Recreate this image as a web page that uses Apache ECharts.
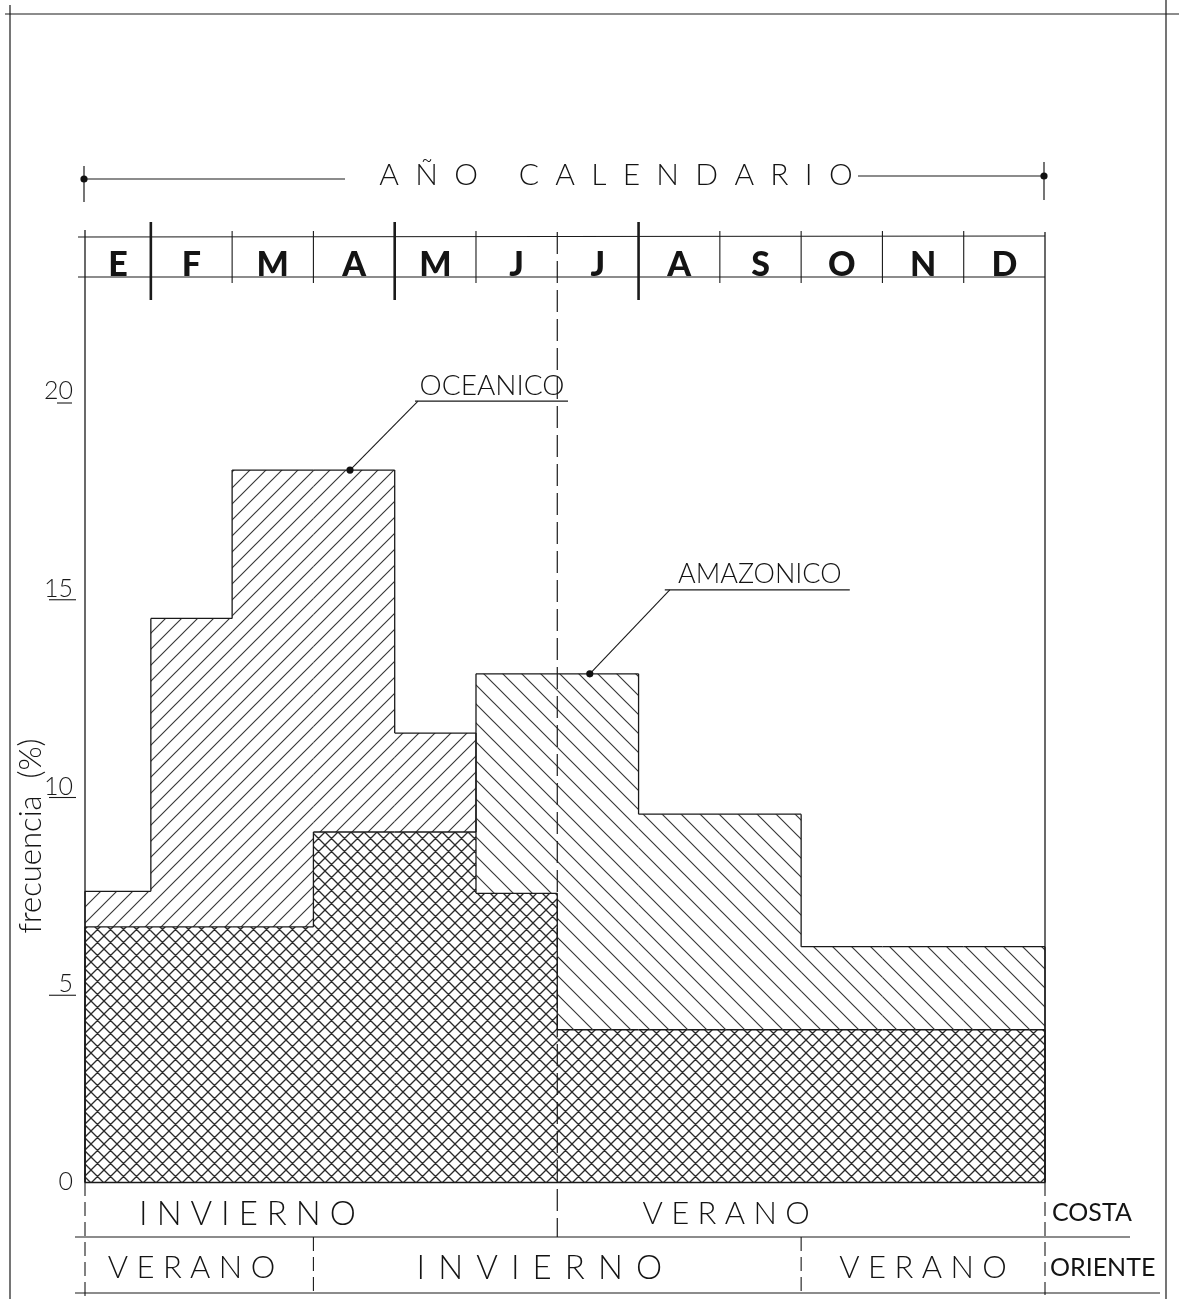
<!DOCTYPE html>
<html><head><meta charset="utf-8">
<script src="https://cdn.jsdelivr.net/npm/echarts@6/dist/echarts.min.js"></script>
<style>html,body{margin:0;padding:0;background:#fff}#c{width:1179px;height:1299px}</style>
</head><body><div id="c"></div>
<script>
// ---------------- data ----------------
const months = ['E','F','M','A','M','J','J','A','S','O','N','D'];
const oceanico  = [7.35, 14.25, 18.0, 18.0, 11.35, 7.3, 3.85, 3.85, 3.85, 3.85, 3.85, 3.85];
const amazonico = [6.45, 6.45, 6.45, 8.85, 8.85, 12.85, 12.85, 9.3, 9.3, 5.95, 5.95, 5.95];
const yTicks = [0, 5, 10, 15, 20];
const costaSeasons   = [{name:'INVIERNO', from:0, to:6}, {name:'VERANO', from:6, to:12}];
const orienteSeasons = [{name:'VERANO', from:0, to:3}, {name:'INVIERNO', from:3, to:9}, {name:'VERANO', from:9, to:12}];
const thickMonthBreaks = [1, 4, 7];
const coastBreak = 6;

// ---------------- layout ----------------
const X_MIN = 0.19;
const LINE = '#1a1a1a';
const HATCH = '#383838';
const THIN = "300 ";
const FONT = "Lato, 'DejaVu Sans', sans-serif";
const spaced = (s, gap) => s.split('').join(gap);

function hatch(size, dirs, color, width) {
  const c = document.createElement('canvas');
  c.width = size; c.height = size;
  const g = c.getContext('2d');
  g.strokeStyle = color; g.lineWidth = width; g.lineCap = 'square';
  g.beginPath();
  for (const d of dirs) {
    for (const o of [-size, 0, size]) {
      if (d === '/') { g.moveTo(o - 1, size + 1); g.lineTo(o + size + 1, -1); }
      else { g.moveTo(o - 1, -1); g.lineTo(o + size + 1, size + 1); }
    }
  }
  g.stroke();
  return c;
}
const patO = {image: hatch(16, ['/'], HATCH, 1.15), repeat: 'repeat'};
const patA = {image: hatch(19, ['\\'], HATCH, 1.15), repeat: 'repeat'};
const patX = {image: hatch(13, ['/','\\'], '#2a2a2a', 1.35), repeat: 'repeat'};

function rectShape(api, x0, x1, v0, v1) {
  const p0 = api.coord([x0, v1]); const p1 = api.coord([x1, v0]);
  return {x: p0[0], y: p0[1], width: p1[0] - p0[0], height: p1[1] - p0[1]};
}
function seg(api, a, b) {
  const p = api.coord(a), q = api.coord(b);
  return {type:'line', shape:{x1:p[0], y1:p[1], x2:q[0], y2:q[1]}, style:{stroke: LINE, lineWidth: 1.3}, silent:true};
}
function seriesRows(own, other) {
  return own.map((v, i) => [i, v, other[i], i > 0 ? own[i-1] : 0]);
}
function renderOwn(pattern) {
  return function(params, api) {
    const i = api.value(0), v = api.value(1), other = api.value(2), prev = api.value(3);
    const x0 = Math.max(i, X_MIN), x1 = i + 1;
    const children = [];
    if (v > other) children.push({type:'rect', shape: rectShape(api, x0, x1, other, v), style:{fill: pattern}, silent:true});
    children.push(seg(api, [x0, v], [x1, v]));
    children.push(seg(api, [x0, prev], [x0, v]));
    if (i === months.length - 1) children.push(seg(api, [x1, v], [x1, 0]));
    return {type:'group', children};
  };
}

const option = {
  animation: false,
  backgroundColor: '#fff',
  grid: {left: 85, right: 134, top: 391, bottom: 117},
  xAxis: {type:'value', min: X_MIN, max: 12, axisLine:{show:true, lineStyle:{color: LINE, width: 1.3}},
          axisTick:{show:false}, axisLabel:{show:false}, splitLine:{show:false}},
  yAxis: {type:'value', min: 0, max: 20, interval: 5, axisLine:{show:false}, axisTick:{show:false}, splitLine:{show:false},
          axisLabel:{margin: 12, fontFamily:'Lato, DejaVu Sans, sans-serif', fontWeight: 300, fontSize: 25, color:'#1a1a1a',
                     formatter: v => yTicks.includes(v) ? String(v) : ''}},
  series: [
    {type:'custom', name:'overlap', clip:false, z:2,
     data: months.map((m, i) => [i, oceanico[i], amazonico[i]]),
     renderItem: function(params, api) {
       const i = api.value(0), o = api.value(1), a = api.value(2);
       return {type:'rect', shape: rectShape(api, Math.max(i, X_MIN), i + 1, 0, Math.min(o, a)), style:{fill: patX}, silent:true};
     }},
    {type:'custom', name:'OCEANICO', clip:false, z:3, data: seriesRows(oceanico, amazonico), renderItem: renderOwn(patO)},
    {type:'custom', name:'AMAZONICO', clip:false, z:3, data: seriesRows(amazonico, oceanico), renderItem: renderOwn(patA)}
  ]
};

const chart = echarts.init(document.getElementById('c'), null, {renderer:'canvas'});
chart.setOption(option);

const px = m => chart.convertToPixel({xAxisIndex:0}, m);
const py = v => chart.convertToPixel({yAxisIndex:0}, v);
const xL = px(X_MIN), xR = px(12), yB = py(0);
const g = [];
function L(x1, y1, x2, y2, w, dash) {
  g.push({type:'line', shape:{x1, y1, x2, y2}, style:{stroke: LINE, lineWidth: w || 1.2, lineDash: dash || null}, silent:true, z:10});
}
function T(text, x, y, font, align, rot) {
  g.push({type:'text', x, y, rotation: rot || 0,
          style:{text, font, fill:'#141414', align: align || 'center', verticalAlign:'middle'}, silent:true, z:10});
}
function dot(x, y) { g.push({type:'circle', shape:{cx:x, cy:y, r:3.6}, style:{fill:'#111'}, silent:true, z:11}); }

// outer frame
L(5, 14, 1179, 14); L(10, 5, 10, 1299); L(1166, 0, 1166, 1299);

// AÑO CALENDARIO
T(spaced('AÑO', '  ') + '     ' + spaced('CALENDARIO', '  '), (xL + xR) / 2 + 51, 175, THIN + '30px ' + FONT);
L(xL, 179, 345, 179); L(858, 176, xR, 176);
L(xL - 1, 166, xL - 1, 202); L(xR - 1, 162, xR - 1, 200);
dot(xL - 1, 179); dot(xR - 1, 176);

// month row
const rowTop = 237, rowBot = 277;
L(xL - 7, rowTop, xR, rowTop - 1); L(xL - 7, rowBot, xR, rowBot);
months.forEach((m, i) => {
  const a = px(Math.max(i, X_MIN)), b = px(i + 1);
  T(m, (a + b) / 2, 265, '900 34px ' + FONT);
});
for (let k = 1; k < 12; k++) {
  const x = px(k);
  if (thickMonthBreaks.includes(k)) L(x, 222, x, 300, 2.6);
  else if (k !== coastBreak) L(x, 231, x, 283, 1.1);
}
// plot frame
L(xL, 230, xL, yB, 1.3); L(xR, 232, xR, yB, 1.3);
// coast/orient dividing dashed line
L(px(coastBreak), 232, px(coastBreak), 1237, 1.2, [22, 7]);

// y tick underlines
[5, 10, 15].forEach(v => L(49, py(v) + 11, 76, py(v) + 11, 1.1));
L(57, py(20) + 12, 72, py(20) + 12, 1.1);

// y axis title
T('frecuencia  (%)', 31, 836, THIN + '31px ' + FONT, 'center', Math.PI / 2);

// annotations
const oA = [px(3.45), py(oceanico[3])];
dot(oA[0], oA[1]); L(oA[0], oA[1], oA[0] + 68, oA[1] - 69, 1.1); L(oA[0] + 65, oA[1] - 69, oA[0] + 218, oA[1] - 69, 1.3);
T('OCEANICO', oA[0] + 142, oA[1] - 84, THIN + '28px ' + FONT);
const aA = [px(6.4), py(amazonico[5])];
dot(aA[0], aA[1]); L(aA[0], aA[1], aA[0] + 80, aA[1] - 84, 1.1); L(aA[0] + 75, aA[1] - 84, aA[0] + 260, aA[1] - 84, 1.3);
T('AMAZONICO', aA[0] + 170, aA[1] - 99, THIN + '27px ' + FONT);

// season rows
const r1 = 1237, r2 = 1293;
L(75, r1, 1130, r1); L(75, r2, 1160, r2);
L(xL, yB, xL, 1299, 1.1, [14, 6]); L(xR, yB, xR, r2 + 2, 1.1, [14, 6]);
orienteSeasons.slice(1).forEach(s => L(px(s.from), r1, px(s.from), r2, 1.1, [14, 6]));
const costaShift = [-66, -75];
costaSeasons.forEach((s, k) => T(spaced(s.name, ' '), (px(s.from) + px(s.to)) / 2 + costaShift[k], 1214, THIN + (k === 1 ? '31px ' : '33px ') + FONT));
orienteSeasons.forEach((s, k) => T(spaced(s.name, k === 1 ? ' \u200A\u200A' : ' '), (px(s.from) + px(s.to)) / 2 - (k === 1 ? 18 : 0), 1268, THIN + (k === 1 ? '33px ' : '31px ') + FONT));
T('COSTA', xR + 7, 1213, '400 25px ' + FONT, 'left');
T('ORIENTE', xR + 5, 1268, '400 25px ' + FONT, 'left');

chart.setOption({graphic: g});
</script></body></html>
